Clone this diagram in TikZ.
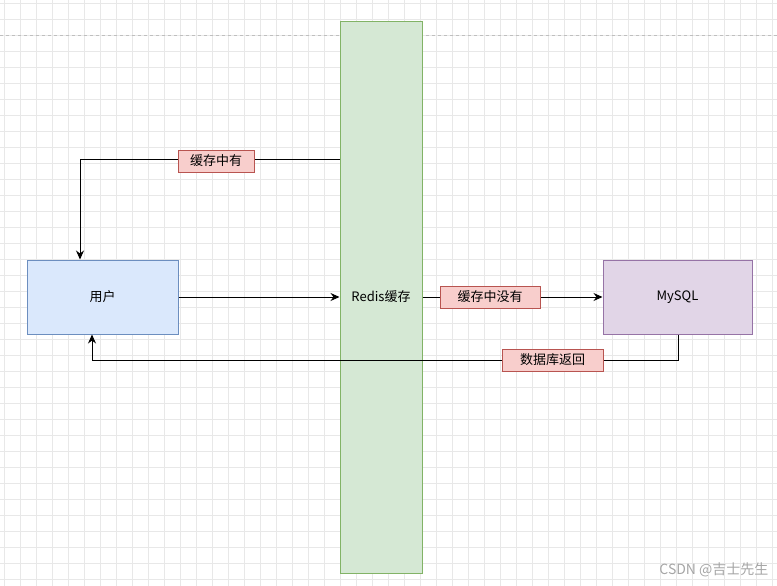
\documentclass[tikz,border=0pt]{standalone}
\usepackage{fontspec}
\usetikzlibrary{arrows.meta}
\setmainfont{Liberation Sans}
\newfontfamily\cjk{Noto Sans CJK SC}
\begin{document}
\begin{tikzpicture}[x=1pt,y=1pt,
  box/.style={draw=#1,line width=1pt,inner sep=0pt,font=\cjk\fontsize{13}{15}\selectfont},
  lab/.style={draw=labB,fill=labF,line width=1pt,minimum height=22pt,inner xsep=6pt,inner ysep=0pt,font=\cjk\fontsize{13}{15}\selectfont},
  arr/.style={draw=black,line width=1pt,-{Stealth[length=9pt,width=8pt]}}]
\definecolor{gridc}{HTML}{E8E8E8}
\definecolor{grnF}{HTML}{D5E8D4}\definecolor{grnB}{HTML}{82B366}
\definecolor{bluF}{HTML}{DAE8FC}\definecolor{bluB}{HTML}{6C8EBF}
\definecolor{purF}{HTML}{E1D5E7}\definecolor{purB}{HTML}{9673A6}
\definecolor{labF}{HTML}{F8CECC}\definecolor{labB}{HTML}{B85450}
\useasboundingbox (0,0) rectangle (777,-586);
\fill[white] (0,0) rectangle (777,-586);
\foreach \i in {0,...,48} {\draw[gridc,line width=0.5pt] (\i*16+4,0) -- (\i*16+4,-586);}
\foreach \i in {0,...,36} {\draw[gridc,line width=0.5pt] (0,-\i*16-3) -- (777,-\i*16-3);}
\draw[gray!50,dashed,line width=0.6pt] (0,-35) -- (777,-35);
\node[box=grnB,fill=grnF,minimum width=82pt,minimum height=551pt] (redis) at (381,-297.5) {};
\node[font=\cjk\fontsize{13}{15}\selectfont] (rl) at (381,-297) {Redis缓存};
\node[box=bluB,fill=bluF,minimum width=151pt,minimum height=74pt] (user) at (102.5,-297) {用户};
\node[box=purB,fill=purF,minimum width=149pt,minimum height=74pt] (mysql) at (677.5,-297) {MySQL};
\coordinate (c1) at (340,-159);
\coordinate (c2) at (80,-159);
\draw[arr] (c1) -- (c2) -- (user.north -| c2);
\node[lab,minimum width=76pt] at (216,-161) {缓存中有};
\draw[arr] (user.east) -- (redis.west |- user.east);
\draw[arr] (redis.east |- mysql.west) -- (mysql.west);
\node[lab,minimum width=100pt] at (490,-297) {缓存中没有};
\coordinate (d1) at (678,-360);
\coordinate (d2) at (92,-360);
\draw[arr] (mysql.south -| d1) -- (d1) -- (d2) -- (user.south -| d2);
\node[lab,minimum width=101pt] at (552.5,-360) {数据库返回};
\node[anchor=south east,text=gray!70,font=\cjk\fontsize{14}{16}\selectfont] at (772,-580) {CSDN @吉士先生};
\end{tikzpicture}
\end{document}
